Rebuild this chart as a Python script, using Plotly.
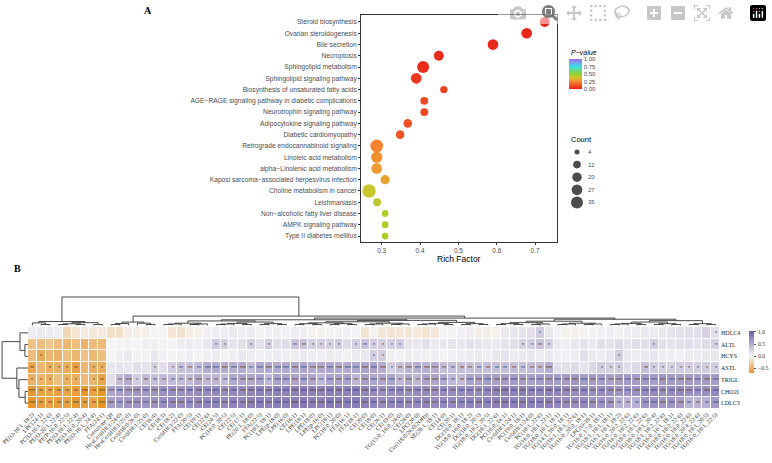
import numpy as np
import plotly.graph_objects as go

W, H = 772, 463
def px(x): return x / W
def py(y): return 1 - y / H

# ---------------- Panel A data ----------------
pathways = ["Steroid biosynthesis", "Ovarian steroidogenesis", "Bile secretion", "Necroptosis",
            "Sphingolipid metabolism", "Sphingolipid signaling pathway",
            "Biosynthesis of unsaturated fatty acids",
            "AGE−RAGE signaling pathway in diabetic complications",
            "Neurotrophin signaling pathway", "Adipocytokine signaling pathway",
            "Diabetic cardiomyopathy", "Retrograde endocannabinoid signaling",
            "Linoleic acid metabolism", "alpha−Linolenic acid metabolism",
            "Kaposi sarcoma−associated herpesvirus infection", "Choline metabolism in cancer",
            "Leishmaniasis", "Non−alcoholic fatty liver disease", "AMPK signaling pathway",
            "Type II diabetes mellitus"]
rich_factor = [0.725, 0.678, 0.59, 0.449, 0.408, 0.39, 0.462, 0.411, 0.411, 0.368,
               0.348, 0.287, 0.287, 0.287, 0.309, 0.267, 0.288, 0.309, 0.309, 0.309]
p_values = [0.01, 0.02, 0.02, 0.03, 0.035, 0.06, 0.09, 0.10, 0.10, 0.12,
            0.13, 0.24, 0.27, 0.29, 0.31, 0.40, 0.42, 0.45, 0.45, 0.45]
counts = [22, 27, 27, 23, 35, 27, 11, 13, 13, 16, 16, 40, 30, 27, 19, 45, 13, 9, 9, 9]
count_breaks = [4, 12, 20, 27, 35]
rich_ticks = [0.3, 0.4, 0.5, 0.6, 0.7]

# ---------------- Panel B data ----------------
row_names = ["HDLC4", "ALTL", "HCYS", "ASTL", "TRIGL", "CHO2I", "LDLC3"]
col_names = ["PE(O-18:1_18:2)", "LPC(24:1)", "PC(O-16:1_22:6)", "PE(O-20:1_22:4)", "PE(P-16:0_22:5)",
             "PE(O-18:1_22:4)", "PE(O-16:0_20:4)", "PE(O-18:1_24:4)", "FFA(24:1)", "Coenzyme Q9",
             "HexCer(d18:1/24:0)", "HexCer(d18:1/25:0)", "Cer(d18:0/26:0)", "Cer(d18:1/25:0)", "CE(16:4)",
             "CE(18:3)", "CE(18:2)", "Cer(d18:1/22:0)", "FFA(20:5)", "CE(19:1)",
             "CE(22:6)", "CE(24:5)", "PC(16:0_20:5)", "CE(22:5)", "CE(17:1)",
             "PE(20:1_18:0)", "FFA(22:5)", "PC(18:1_18:1)", "LPE(p-18:0)", "LPE(16:0)",
             "CE(16:1)", "LPE(18:1)", "LPE(18:0)", "LPE(p-16:0)", "LPC(18:1)",
             "PC(18:0_20:0)", "FFA(16:1)", "FFA(18:1)", "CE(20:0)", "CE(18:0)",
             "CE(26:1)", "CE(19:0)", "TG(15:0_16:0_24:0)", "CE(24:0)", "LPC(20:0)",
             "Cer(t18:0/26:0(2OH))", "SE(28:1_18:1)", "CE(14:0)", "CE(20:1)", "DG(16:0_18:1)",
             "TG(18:0_16:0_18:2)", "DG(18:0_20:5)", "TG(18:0_18:2_20:5)", "DG(18:1_22:6)", "PC(16:0_16:1)",
             "Cer(d18:1/24:1)", "PC(19:0_18:1)", "Cer(d18:1/24:0)", "PC(18:1_22:6)", "TG(16:0_18:1_22:1)",
             "TG(18:0_18:1_18:1)", "TG(14:1_16:0_18:1)", "TG(16:1_18:1_22:6)", "TG(16:0_20:0_18:1)", "LPC(O-18:1)",
             "TG(16:0_17:0_18:1)", "TG(18:1_18:1_18:1)", "TG(16:1_18:1_18:2)", "TG(16:0_20:2_22:6)", "TG(16:0_18:2_22:6)",
             "TG(18:0_18:1_22:6)", "TG(16:0_18:1_20:4)", "TG(18:1_18:2_22:6)", "TG(16:0_16:1_18:1)", "TG(18:0_18:2_22:6)",
             "TG(16:0_18:0_22:6)", "TG(18:0_20:4_22:6)", "TG(18:0_18:1_20:5)", "TG(16:0_18:1_22:5)"]
heat_ticks = [1.0, 0.5, 0.0, -0.5]
heat_ticktext = ["1.0", "0.5", "0.0", "−0.5"]

hdlc4 = [0.06, 0.08, 0.07, 0.05, -0.22, -0.12, -0.08, -0.1, -0.09, -0.15,
         -0.16, -0.06, -0.05, -0.04, 0.01, 0.02, -0.12, -0.14, -0.06, -0.04,
         0.04, 0.05, 0.06, 0.08, 0.05, 0.07, 0.03, 0.04, 0.05, 0.04,
         0.06, 0.05, -0.02, -0.03, 0.02, 0.03, 0.04, 0.02, -0.12, 0.02,
         -0.1, -0.12, -0.1, -0.11, -0.09, -0.12, -0.1, 0.02, 0.03, 0.04,
         0.06, -0.05, -0.06, -0.04, 0.08, 0.1, 0.12, 0.14, 0.28, 0.1,
         0.02, -0.03, -0.04, -0.02, 0.03, 0.04, 0.05, 0.03, 0.05, 0.06,
         0.08, 0.06, 0.1, 0.12, 0.14, 0.15, 0.16, 0.25, 0.15]
altl = [-0.38, -0.4, -0.35, -0.42, -0.45, -0.4, -0.48, -0.42, -0.44, 0.0,
        0.02, 0.03, 0.01, 0.04, 0.05, 0.03, 0.02, 0.06, 0.08, 0.05,
        0.1, 0.28, 0.27, 0.12, 0.15, 0.26, 0.14, 0.27, 0.15, 0.18,
        0.33, 0.35, 0.25, 0.26, 0.24, 0.27, 0.18, 0.26, 0.34, 0.27,
        0.26, 0.25, 0.27, 0.12, 0.1, 0.14, 0.08, 0.1, 0.12, 0.1,
        0.14, 0.12, 0.1, 0.08, 0.12, 0.15, 0.26, 0.27, 0.34, 0.26,
        0.08, 0.06, 0.1, 0.12, 0.08, 0.15, 0.13, 0.18, 0.12, 0.14,
        0.16, 0.27, 0.15, 0.12, 0.14, 0.16, 0.13, 0.18, 0.26]
hcys = [-0.42, -0.55, -0.45, -0.5, -0.4, -0.46, -0.38, -0.44, -0.4, 0.0,
        0.05, 0.08, 0.03, 0.02, 0.1, 0.04, 0.02, 0.03, 0.05, 0.02,
        0.04, 0.06, 0.03, 0.05, 0.08, 0.06, 0.04, 0.05, 0.07, 0.05,
        0.06, 0.08, 0.05, 0.04, 0.06, 0.05, 0.03, 0.07, 0.1, 0.27,
        0.28, 0.04, 0.03, 0.06, 0.05, 0.04, 0.06, 0.02, 0.04, 0.05,
        0.06, 0.08, 0.05, 0.1, 0.12, 0.06, 0.08, 0.09, 0.06, 0.1,
        0.05, 0.04, 0.06, 0.14, 0.08, 0.06, 0.1, 0.27, 0.08, 0.06,
        0.08, 0.1, 0.06, 0.05, 0.04, 0.07, 0.06, 0.08, 0.1]
astl = [-0.58, -0.45, -0.52, -0.5, -0.53, -0.6, -0.45, -0.5, -0.52, 0.1,
        0.12, 0.1, 0.14, 0.12, 0.26, 0.16, 0.27, 0.36, 0.37, 0.38,
        0.48, 0.5, 0.49, 0.47, 0.5, 0.4, 0.5, 0.52, 0.5, 0.51,
        0.53, 0.55, 0.5, 0.52, 0.54, 0.52, 0.5, 0.52, 0.55, 0.58,
        0.5, 0.27, 0.36, 0.45, 0.47, 0.46, 0.48, 0.38, 0.37, 0.38,
        0.37, 0.38, 0.36, 0.37, 0.36, 0.38, 0.37, 0.38, 0.4, 0.48,
        0.15, 0.14, 0.18, 0.12, 0.2, 0.27, 0.26, 0.28, 0.16, 0.18,
        0.36, 0.28, 0.27, 0.26, 0.28, 0.27, 0.26, 0.28, 0.27]
trigl = [-0.5, -0.48, -0.52, -0.4, -0.5, -0.5, -0.42, -0.48, -0.58, 0.15,
         0.38, 0.5, 0.28, 0.4, 0.38, 0.4, 0.39, 0.4, 0.41, 0.52,
         0.4, 0.42, 0.4, 0.52, 0.55, 0.54, 0.55, 0.42, 0.56, 0.55,
         0.55, 0.56, 0.54, 0.42, 0.55, 0.56, 0.55, 0.42, 0.57, 0.55,
         0.54, 0.55, 0.42, 0.53, 0.42, 0.55, 0.56, 0.52, 0.42, 0.4,
         0.56, 0.58, 0.6, 0.58, 0.6, 0.62, 0.6, 0.58, 0.6, 0.62,
         0.6, 0.62, 0.64, 0.6, 0.62, 0.6, 0.58, 0.6, 0.62, 0.6,
         0.62, 0.6, 0.64, 0.62, 0.6, 0.62, 0.6, 0.62, 0.6]
cho2i = [-0.68, -0.6, -0.58, -0.62, -0.6, -0.62, -0.7, -0.62, -0.7, 0.55,
         0.6, 0.62, 0.65, 0.63, 0.66, 0.68, 0.7, 0.68, 0.7, 0.72,
         0.72, 0.74, 0.7, 0.75, 0.73, 0.76, 0.78, 0.75, 0.8, 0.78,
         0.8, 0.82, 0.8, 0.78, 0.82, 0.8, 0.78, 0.8, 0.76, 0.74,
         0.7, 0.72, 0.74, 0.7, 0.72, 0.74, 0.7, 0.72, 0.7, 0.72,
         0.74, 0.72, 0.75, 0.78, 0.8, 0.78, 0.8, 0.76, 0.75, 0.78,
         0.76, 0.74, 0.72, 0.75, 0.7, 0.72, 0.7, 0.65, 0.66, 0.68,
         0.72, 0.74, 0.7, 0.72, 0.74, 0.7, 0.68, 0.7, 0.72]
ldlc3 = [-0.7, -0.62, -0.6, -0.63, -0.6, -0.68, -0.62, -0.6, -0.7, 0.6,
         0.62, 0.65, 0.66, 0.64, 0.68, 0.7, 0.72, 0.7, 0.72, 0.74,
         0.75, 0.76, 0.74, 0.78, 0.76, 0.8, 0.8, 0.78, 0.82, 0.8,
         0.82, 0.84, 0.82, 0.8, 0.84, 0.82, 0.8, 0.82, 0.78, 0.76,
         0.72, 0.74, 0.76, 0.72, 0.74, 0.76, 0.72, 0.74, 0.72, 0.74,
         0.76, 0.74, 0.76, 0.8, 0.8, 0.78, 0.8, 0.78, 0.76, 0.78,
         0.74, 0.72, 0.7, 0.72, 0.68, 0.66, 0.64, 0.45, 0.44, 0.46,
         0.66, 0.68, 0.64, 0.66, 0.62, 0.45, 0.44, 0.46, 0.62]

# number of significance stars per cell (digits 0-3)
stars_hdlc4 = "0000000000" "0000000000" "0000000000" "0000000000" "0000000000" "0000000010" "0000000000" "000000001"
stars_altl = "0000000000" "0000000000" "0110010100" "2211110121" "1110000000" "0000001121" "0000000000" "010000001"
stars_hcys = "0100000000" "0000000000" "0000000000" "0000000001" "1000000000" "0000000000" "0000000100" "000000000"
stars_astl = "2011120110" "0000101222" "3333323333" "3333333333" "3123333222" "2222222223" "0000011100" "211111111"
stars_trigl = "1110110120" "2312222223" "2223333233" "3332333233" "3323233322" "3333333333" "3333333333" "333333333"
stars_cho2i = "3222223233" "3333333333" "3333333333" "3333333333" "3333333333" "3333333333" "3333333333" "333333333"
stars_ldlc3 = "3222232233" "3333333333" "3333333333" "3333333333" "3333333333" "3333333333" "3333333222" "333332223"

# dendrogram topology: [merge height, left, right]; int = block of n adjacent leaves
col_tree = [10.0,
            [1.4, [0.9, 1, 2], [1.0, [0.6, 2, 2], 2]],
            [3.3,
             [1.2, [0.7, 2, 1], [0.8, 1, 2]],
             [2.6,
              [2.0, [1.6, 6, [1.2, 5, 4]], [1.8, [1.3, 8, 6], [1.1, 5, 4]]],
              [2.2, [1.5, [1.0, 4, 3], 6], [1.7, [1.2, 5, 4], 4]]]]]
row_tree = [10.0, [3.1, 1, [1.2, 1, 1]], [4.3, 1, [3.5, 1, [1.1, 1, 1]]]]

# ---------------- build helpers ----------------
values = [hdlc4, altl, hcys, astl, trigl, cho2i, ldlc3]
star_rows = [stars_hdlc4, stars_altl, stars_hcys, stars_astl, stars_trigl, stars_cho2i, stars_ldlc3]
for r, s in zip(values, star_rows):
    assert len(r) == len(col_names) and len(s) == len(col_names)
star_text = [["*" * int(ch) for ch in s] for s in star_rows]


def dendro_segments(tree):
    xs, hs = [], []
    counter = [0]

    def add(c1, h1, c2, h2, h):
        xs.extend([c1, c1, c2, c2, None])
        hs.extend([h1, h, h, h2, None])

    def block(n):
        if n == 1:
            c = counter[0]
            counter[0] += 1
            return c, 0.0
        a = (n + 1) // 2
        c1, h1 = block(a)
        c2, h2 = block(n - a)
        h = 0.28 * np.log2(n) + 0.08
        add(c1, h1, c2, h2, h)
        return (c1 + c2) / 2, h

    def walk(node):
        if isinstance(node, int):
            return block(node)
        h, left, right = node
        c1, h1 = walk(left)
        c2, h2 = walk(right)
        add(c1, h1, c2, h2, h)
        return (c1 + c2) / 2, h

    walk(tree)
    return xs, hs


def size_of(c):
    return 1.786 * np.sqrt(c) + 1.43


pv_scale = [[0.0, "#e8201a"], [0.25, "#f4862f"], [0.37, "#d8c42e"], [0.5, "#8fd22a"],
            [0.75, "#3ddfe6"], [1.0, "#a66cf4"]]
hm_scale = [[0.0, "#e8952a"], [0.7 / 1.74, "#f6f5f6"], [1.0, "#6c5ca8"]]
z_min, z_max = -0.7, 1.04
cb_top, cb_len = 331, 42

sans = "Liberation Sans, Arial, sans-serif"
serif = "Liberation Serif, Times New Roman, serif"

fig = go.Figure()

# Panel A bubbles
fig.add_trace(go.Scatter(
    x=rich_factor, y=pathways, mode="markers", xaxis="x", yaxis="y", hoverinfo="skip",
    marker=dict(size=[size_of(c) for c in counts], color=p_values, cmin=0, cmax=1,
                colorscale=pv_scale, opacity=1, line=dict(width=0),
                colorbar=dict(x=px(569), xanchor="left", y=py(59), yanchor="top",
                              lenmode="pixels", len=30, thickness=13, outlinewidth=0,
                              xpad=0, ypad=0, ticks="", tickvals=[0, 0.25, 0.5, 0.75, 1],
                              ticktext=["0.00", "0.25", "0.50", "0.75", "1.00"],
                              tickfont=dict(size=6, family=sans, color="#4d4d4d"))),
    showlegend=False))

# size legend
leg_y = [152 + 12.6 * i for i in range(len(count_breaks))]
fig.add_trace(go.Scatter(
    x=[577] * len(count_breaks), y=leg_y, mode="markers", xaxis="x5", yaxis="y5",
    marker=dict(size=[size_of(c) for c in count_breaks], color="black", line=dict(width=0)),
    hoverinfo="skip", showlegend=False))

# Panel B heatmap
fig.add_trace(go.Heatmap(
    z=values, x=list(range(len(col_names))), y=list(range(len(row_names))),
    xaxis="x2", yaxis="y2", zmin=z_min, zmax=z_max, colorscale=hm_scale,
    xgap=1, ygap=1, text=star_text, texttemplate="%{text}",
    textfont=dict(size=5, color="#3a3a3a", family=sans), hoverinfo="skip",
    colorbar=dict(x=px(749), xanchor="left", y=py(cb_top), yanchor="top", lenmode="pixels",
                  len=cb_len, thickness=5, outlinewidth=0, xpad=0, ypad=0, ticks="outside",
                  ticklen=2, tickcolor="#555", tickvals=heat_ticks, showticklabels=False)))

# dendrograms
cx, ch = dendro_segments(col_tree)
fig.add_trace(go.Scatter(x=cx, y=ch, mode="lines", xaxis="x3", yaxis="y3",
                         line=dict(color="#333", width=0.9), hoverinfo="skip", showlegend=False))
rx, rh = dendro_segments(row_tree)
fig.add_trace(go.Scatter(x=rh, y=rx, mode="lines", xaxis="x4", yaxis="y4",
                         line=dict(color="#333", width=0.9), hoverinfo="skip", showlegend=False))

n_cols = len(col_names)
n_rows = len(row_names)
hidden = dict(visible=False, showgrid=False, zeroline=False, fixedrange=True)

annotations = [
    dict(text="<b>A</b>", x=px(148), y=py(10), xref="paper", yref="paper", showarrow=False,
         font=dict(size=10, family=serif, color="black"), xanchor="center", yanchor="middle"),
    dict(text="<b>B</b>", x=px(17), y=py(268), xref="paper", yref="paper", showarrow=False,
         font=dict(size=10, family=serif, color="black"), xanchor="center", yanchor="middle"),
    dict(text="Rich Factor", x=px(459), y=py(259), xref="paper", yref="paper", showarrow=False,
         font=dict(size=8.5, family=sans, color="black"), xanchor="center", yanchor="middle"),
    dict(text="<i>P−value</i>", x=px(569), y=py(52), xref="paper", yref="paper", showarrow=False,
         font=dict(size=7, family=sans, color="black"), xanchor="left", yanchor="middle"),
    dict(text="Count", x=px(569), y=py(139), xref="paper", yref="paper", showarrow=False,
         font=dict(size=7.5, family=sans, color="black"), xanchor="left", yanchor="middle"),
]
for c, yv in zip(count_breaks, leg_y):
    annotations.append(dict(text=str(c), x=586, y=yv, xref="x5", yref="y5", showarrow=False,
                            font=dict(size=6, family=sans, color="#4d4d4d"),
                            xanchor="left", yanchor="middle"))
# heatmap colour-bar labels (placed on the colour-bar's own scale)
for v, t in zip(heat_ticks, heat_ticktext):
    ypix = cb_top + (z_max - v) / (z_max - z_min) * cb_len
    annotations.append(dict(text=t, x=px(756), y=py(ypix), xref="paper", yref="paper",
                            showarrow=False, xanchor="left", yanchor="middle",
                            font=dict(size=5.8, family=serif, color="#333")))

fig.update_layout(
    width=W, height=H, margin=dict(l=0, r=0, t=0, b=0),
    paper_bgcolor="white", plot_bgcolor="white", showlegend=False,
    xaxis=dict(domain=[px(361), px(557)], range=[0.246, 0.757], anchor="y",
               tickvals=rich_ticks, ticktext=[f"{v:.1f}" for v in rich_ticks],
               ticks="outside", ticklen=2, tickcolor="#333", showline=True, mirror=True,
               linecolor="#333", linewidth=0.8, showgrid=False, zeroline=False,
               tickfont=dict(size=6.5, family=sans, color="#4d4d4d"), automargin=False),
    yaxis=dict(domain=[py(242), py(15)], type="category", categoryarray=pathways,
               range=[len(pathways) - 1 + 0.53, -0.62], anchor="x",
               ticks="outside", ticklen=2, tickcolor="#333", showline=True, mirror=True,
               linecolor="#333", linewidth=0.8, showgrid=False, zeroline=False,
               tickfont=dict(size=6.7, family=sans, color="#4d4d4d"), automargin=False),
    xaxis2=dict(domain=[px(28), px(720)], range=[-0.5, n_cols - 0.5], anchor="y2",
                tickvals=list(range(n_cols)), ticktext=col_names, tickangle=-45,
                ticks="", showline=False, showgrid=False, zeroline=False,
                ticklabeloverflow="allow",
                tickfont=dict(size=6, family=serif, color="#333"), automargin=False),
    yaxis2=dict(domain=[py(409), py(327)], range=[n_rows - 0.5, -0.5], anchor="x2",
                side="right", tickvals=list(range(n_rows)), ticktext=row_names,
                ticks="", showline=False, showgrid=False, zeroline=False,
                tickfont=dict(size=6, family=serif, color="#222"), automargin=False),
    xaxis3=dict(domain=[px(28), px(720)], range=[-0.5, n_cols - 0.5], anchor="y3", **hidden),
    yaxis3=dict(domain=[py(326), py(296)], range=[-0.18, 10.35], anchor="x3", **hidden),
    xaxis4=dict(domain=[0, px(28)], range=[10.8, 0], anchor="y4", **hidden),
    yaxis4=dict(domain=[py(409), py(327)], range=[n_rows - 0.5, -0.5], anchor="x4", **hidden),
    xaxis5=dict(domain=[px(560), px(630)], range=[560, 630], anchor="y5", **hidden),
    yaxis5=dict(domain=[py(215), py(135)], range=[215, 135], anchor="x5", **hidden),
    annotations=annotations,
)

fig.write_html("out.html", post_script="document.body.style.margin='0';")
